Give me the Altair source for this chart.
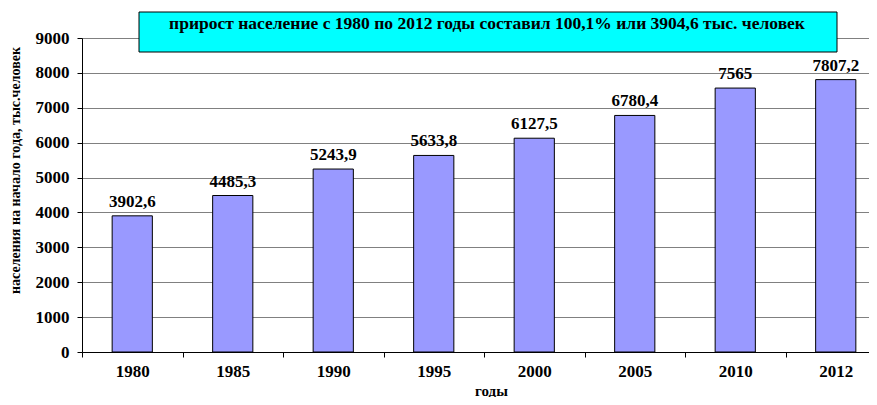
import altair as alt
import pandas as pd

years = ["1980", "1985", "1990", "1995", "2000", "2005", "2010", "2012"]
population = [3902.6, 4485.3, 5243.9, 5633.8, 6127.5, 6780.4, 7565.0, 7807.2]
labels = [f"{v:g}".replace(".", ",") for v in population]
title_text = "прирост население с 1980 по 2012 годы составил 100,1% или 3904,6 тыс. человек"
y_title = "населения на начало года, тыс.человек"
x_title = "годы"
y_ticks = list(range(0, 9001, 1000))

df = pd.DataFrame({"year": years, "value": population, "label": labels})
FONT = "Liberation Serif"
FS = 17

x_enc = alt.X(
    "year:N",
    sort=years,
    scale=alt.Scale(range=[0, 804], paddingInner=0, paddingOuter=0),
    axis=alt.Axis(
        title=x_title,
        labelAngle=0,
        tickBand="extent",
        grid=False,
        domainColor="black",
        tickColor="black",
        tickSize=5,
        labelPadding=6,
        labelFont=FONT,
        labelFontSize=FS,
        labelFontWeight="bold",
        labelColor="black",
        titleFont=FONT,
        titleFontSize=15,
        titleFontWeight="bold",
        titleColor="black",
        titleX=409,
        titleY=38,
        titleBaseline="middle",
    ),
)
y_enc = alt.Y(
    "value:Q",
    scale=alt.Scale(domain=[0, 9000], nice=False),
    axis=alt.Axis(
        title=y_title,
        values=y_ticks,
        format="d",
        grid=True,
        gridColor="#808080",
        gridWidth=1,
        domainColor="black",
        tickColor="black",
        tickSize=5,
        labelPadding=8,
        labelFont=FONT,
        labelFontSize=FS,
        labelFontWeight="bold",
        labelColor="black",
        titleFont=FONT,
        titleFontSize=14,
        titleFontWeight="bold",
        titleColor="black",
        titleX=-67,
        titleY=132,
        titleAngle=-90,
        titleBaseline="middle",
        titleAlign="center",
    ),
)

base = alt.Chart(df).encode(x=x_enc, y=y_enc)

bars = base.mark_bar(
    width=alt.RelativeBandSize(0.4), color="#9999FF", stroke="black", strokeWidth=1
)

text = base.mark_text(
    font=FONT, fontSize=FS, fontWeight="bold", color="black", baseline="alphabetic", dy=-9
).encode(text="label:N")

box = alt.Chart(pd.DataFrame({"t": [title_text]})).mark_rect(
    fill="#00FFFF", stroke="black", strokeWidth=1
).encode(x=alt.value(57), x2=alt.value(755), y=alt.value(-26), y2=alt.value(14))

box_text = alt.Chart(pd.DataFrame({"t": [title_text]})).mark_text(
    font=FONT, fontSize=17.5, fontWeight="bold", color="black", baseline="middle", align="center"
).encode(x=alt.value(405), y=alt.value(-14), text="t:N")

chart = alt.layer(bars, text, box, box_text).properties(
    width=787,
    height=314,
    autosize=alt.AutoSizeParams(type="none"),
    padding={"left": 74, "top": 30, "right": 0, "bottom": 45},
).configure_view(stroke=None).configure(background="white")

chart.save("out.html", embed_options={"renderer": "svg", "actions": False})
